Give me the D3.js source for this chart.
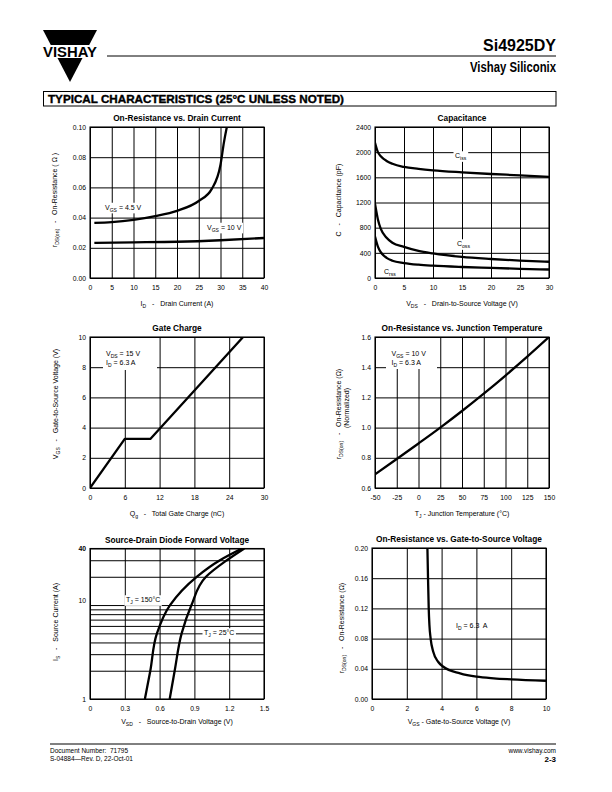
<!DOCTYPE html>
<html><head><meta charset="utf-8">
<script src="https://cdn.jsdelivr.net/npm/d3@7"></script>
<style>
body{margin:0;background:#fff}
svg text{white-space:pre}
</style></head><body>
<svg id="page" width="612" height="792"></svg>
<script>
// ================= DATA =================
// Chart 1: On-Resistance vs. Drain Current
const c1XTicks = [0,5,10,15,20,25,30,35,40];
const c1YTicks = [0,0.02,0.04,0.06,0.08,0.10];
const c1Id45 = [1,5,10,15,20,25,28,30,30.8,31.6];
const c1Ron45 = [0.0365,0.037,0.0385,0.041,0.0445,0.051,0.059,0.075,0.09,0.102];
const c1Id10 = [1,10,20,30,40];
const c1Ron10 = [0.0233,0.0236,0.024,0.025,0.0265];

// Chart 2: Capacitance
const c2XTicks = [0,5,10,15,20,25,30];
const c2YTicks = [0,400,800,1200,1600,2000,2400];
const c2Vds = [0,0.5,1,2,3,5,7.5,10,15,20,25,30];
const c2Ciss = [2150,2000,1935,1860,1815,1765,1735,1712,1680,1653,1632,1607];
const c2Coss = [1180,930,780,640,560,495,430,390,335,302,276,258];
const c2Crss = [660,500,410,320,275,238,212,196,175,160,146,135];

// Chart 3: Gate Charge
const c3XTicks = [0,6,12,18,24,30];
const c3YTicks = [0,2,4,6,8,10];
const c3Qg = [0,6,10.4,26.4];
const c3Vgs = [0,3.25,3.25,10];

// Chart 4: On-Resistance vs. Junction Temperature
const c4XTicks = [-50,-25,0,25,50,75,100,125,150];
const c4YTicks = [0.6,0.8,1.0,1.2,1.4,1.6];
const c4Tj = [-50,-25,0,25,50,75,100,125,150];
const c4Rn = [0.69,0.792,0.895,1.0,1.11,1.225,1.345,1.47,1.60];

// Chart 5: Source-Drain Diode Forward Voltage
const c5XTicks = [0,0.3,0.6,0.9,1.2,1.5];
const c5YGrid = [1,2,3,4,5,6,7,8,9,10,20,30,40];
const c5YLabels = [1,10,40];
const c5Is = [1,2,5,10,20,30,40];
const c5Vsd150 = [0.473,0.52,0.577,0.69,0.92,1.12,1.31];
const c5Vsd25 = [0.687,0.73,0.79,0.875,1.0,1.18,1.33];

// Chart 6: On-Resistance vs. Gate-to-Source Voltage
const c6XTicks = [0,2,4,6,8,10];
const c6YTicks = [0,0.04,0.08,0.12,0.16,0.20];
const c6Vgs = [3.18,3.22,3.26,3.3,3.37,3.52,3.81,4.1,5.06,6,7,8,10];
const c6Rds = [0.205,0.16,0.12,0.098,0.080,0.0626,0.049,0.0427,0.034,0.0295,0.0273,0.026,0.0242];

// ================= DRAWING =================
const FONT = "'Liberation Sans', Arial, Helvetica, sans-serif";
const svg = d3.select("#page").attr("font-family", FONT);

function rich(parent, x, y, parts, o = {}) {
  const fs = o.fs || 7;
  const t = parent.append("text").attr("x", x).attr("y", y)
    .attr("font-size", fs).attr("text-anchor", o.anchor || "start").attr("fill", "#000");
  if (o.bold) t.attr("font-weight", "bold");
  if (o.rotate) t.attr("transform", `rotate(-90 ${x} ${y})`);
  let shifted = 0;
  parts.forEach(p => {
    const s = typeof p === "string" ? { t: p } : p;
    const ts = t.append("tspan").text(s.t);
    if (s.sub) { ts.attr("font-size", fs * 0.72).attr("dy", fs * 0.3 - shifted); shifted = fs * 0.3; }
    else if (shifted) { ts.attr("dy", -shifted); shifted = 0; }
  });
  return t;
}
function bgBehind(layer, textSel, pad = 1.5) {
  const b = textSel.node().getBBox();
  layer.append("rect").attr("x", b.x - pad).attr("y", b.y - pad * 0.5)
    .attr("width", b.width + 2 * pad).attr("height", b.height + pad).attr("fill", "#fff");
}

let clipN = 0;
function chart(cfg) {
  const { left, right, top, bottom, x, y } = cfg;
  const g = svg.append("g");
  const id = "clip" + (clipN++);
  g.append("clipPath").attr("id", id).append("rect")
    .attr("x", left).attr("y", top).attr("width", right - left).attr("height", bottom - top);
  const gx = g.append("g").attr("transform", `translate(0,${bottom})`)
    .call(d3.axisBottom(x).tickValues(cfg.xTicks).tickFormat(cfg.xFmt)
      .tickSizeInner(-(bottom - top)).tickSizeOuter(0).tickPadding(7));
  const gy = g.append("g").attr("transform", `translate(${left},0)`)
    .call(d3.axisLeft(y).tickValues(cfg.yTicks).tickFormat(cfg.yFmt)
      .tickSizeInner(-(right - left)).tickSizeOuter(0).tickPadding(cfg.yPad || 4));
  [gx, gy].forEach(a => {
    a.attr("font-family", FONT).attr("font-size", 6.8);
    a.select(".domain").remove();
    a.selectAll("line").attr("stroke", "#000").attr("stroke-width", 1);
    a.selectAll("text").attr("fill", "#000");
  });
  const bgLayer = g.append("g");
  const curveLayer = g.append("g").attr("clip-path", `url(#${id})`);
  g.append("rect").attr("x", left).attr("y", top).attr("width", right - left).attr("height", bottom - top)
    .attr("fill", "none").attr("stroke", "#000").attr("stroke-width", 1.1);
  const labelLayer = g.append("g");
  g.append("text").attr("x", cfg.titleX != null ? cfg.titleX : (left + right) / 2).attr("y", top - 6)
    .attr("text-anchor", "middle").attr("font-weight", "bold").attr("font-size", 8.3).text(cfg.title);
  rich(g, cfg.xTitleX != null ? cfg.xTitleX : (left + right) / 2, bottom + (cfg.xTitleOff || 28), cfg.xTitle, { anchor: "middle" });
  cfg.yTitles.forEach(yt => rich(g, yt.x, yt.y, yt.parts, { anchor: "middle", rotate: true }));
  return { g, gx, gy, bgLayer, curveLayer, labelLayer };
}
function drawLine(layer, xs, ys, x, y, curve, w = 2.3) {
  const pts = xs.map((v, i) => [v, ys[i]]);
  layer.append("path").attr("d", d3.line().x(d => x(d[0])).y(d => y(d[1])).curve(curve)(pts))
    .attr("fill", "none").attr("stroke", "#000").attr("stroke-width", w)
    .attr("stroke-linejoin", "round").attr("stroke-linecap", "butt");
}
function label(ch, x, y, parts, withBg = true) {
  const t = rich(ch.labelLayer, x, y, parts, {});
  if (withBg) bgBehind(ch.bgLayer, t);
  return t;
}

// ---------- header ----------
svg.append("path").attr("d", "M43,30 H97 L89.2,45 H50.8 Z").attr("fill", "#000");
svg.append("path").attr("d", "M57.5,58 H82.5 L70,82 Z").attr("fill", "#000");
svg.append("text").attr("x", 43).attr("y", 56.5).attr("font-weight", "bold").attr("font-size", 14.5)
  .attr("textLength", 54).attr("lengthAdjust", "spacingAndGlyphs").text("VISHAY");
svg.append("line").attr("x1", 107).attr("x2", 556).attr("y1", 56).attr("y2", 56).attr("stroke", "#000").attr("stroke-width", 1);
svg.append("text").attr("x", 556).attr("y", 51).attr("text-anchor", "end").attr("font-weight", "bold").attr("font-size", 17)
  .attr("textLength", 73).attr("lengthAdjust", "spacingAndGlyphs").text("Si4925DY");
svg.append("text").attr("x", 556).attr("y", 72).attr("text-anchor", "end").attr("font-weight", "bold").attr("font-size", 14)
  .attr("textLength", 86).attr("lengthAdjust", "spacingAndGlyphs").text("Vishay Siliconix");
svg.append("rect").attr("x", 43.5).attr("y", 91.5).attr("width", 512.5).attr("height", 14.5).attr("fill", "none").attr("stroke", "#000").attr("stroke-width", 1);
svg.append("text").attr("x", 48).attr("y", 102.5).attr("font-weight", "bold").attr("font-size", 10.3)
  .attr("stroke", "#000").attr("stroke-width", 0.35)
  .attr("textLength", 296).attr("lengthAdjust", "spacingAndGlyphs")
  .text("TYPICAL CHARACTERISTICS (25°C UNLESS NOTED)");

// ---------- footer ----------
svg.append("line").attr("x1", 50).attr("x2", 556).attr("y1", 744).attr("y2", 744).attr("stroke", "#000").attr("stroke-width", 1);
svg.append("text").attr("x", 50).attr("y", 753).attr("font-size", 6.5).text("Document Number:  71795");
svg.append("text").attr("x", 50).attr("y", 761).attr("font-size", 6.5).text("S-04884—Rev. D, 22-Oct-01");
svg.append("text").attr("x", 556).attr("y", 753).attr("font-size", 6.5).attr("text-anchor", "end").text("www.vishay.com");
svg.append("text").attr("x", 556).attr("y", 762).attr("font-size", 8).attr("font-weight", "bold").attr("text-anchor", "end").text("2-3");

const f2 = d3.format(".2f"), f1 = d3.format(".1f"), fd = v => String(v);

// ---------- Chart 1 ----------
{
  const L = 90, R = 264, T = 127, B = 278;
  const x = d3.scaleLinear().domain([0, 40]).range([L, R]);
  const y = d3.scaleLinear().domain([0, 0.10]).range([B, T]);
  const ch = chart({ left: L, right: R, top: T, bottom: B, x, y, xTicks: c1XTicks, yTicks: c1YTicks, xFmt: fd, yFmt: f2,
    title: "On-Resistance vs. Drain Current",
    xTitle: ["I", { t: "D", sub: true }, "   -   Drain Current (A)"],
    yTitles: [{ x: 56.5, y: 200, parts: ["r", { t: "DS(on)", sub: true }, "   -   On-Resistance ( Ω )"] }] });
  label(ch, 105, 209.5, ["V", { t: "GS", sub: true }, " = 4.5 V"]);
  label(ch, 207, 229.5, ["V", { t: "GS", sub: true }, " = 10 V"]);
  drawLine(ch.curveLayer, c1Id45, c1Ron45, x, y, d3.curveMonotoneX);
  drawLine(ch.curveLayer, c1Id10, c1Ron10, x, y, d3.curveMonotoneX);
}
// ---------- Chart 2 ----------
{
  const L = 375, R = 549, T = 127, B = 278;
  const x = d3.scaleLinear().domain([0, 30]).range([L, R]);
  const y = d3.scaleLinear().domain([0, 2400]).range([B, T]);
  const ch = chart({ left: L, right: R, top: T, bottom: B, x, y, xTicks: c2XTicks, yTicks: c2YTicks, xFmt: fd, yFmt: fd,
    title: "Capacitance",
    xTitle: ["V", { t: "DS", sub: true }, "   -   Drain-to-Source Voltage (V)"],
    yTitles: [{ x: 340.5, y: 200, parts: ["C   -   Capacitance (pF)"] }] });
  label(ch, 455, 158, ["C", { t: "iss", sub: true }]);
  label(ch, 457, 246, ["C", { t: "oss", sub: true }]);
  label(ch, 384, 274, ["C", { t: "rss", sub: true }], false);
  drawLine(ch.curveLayer, c2Vds, c2Ciss, x, y, d3.curveMonotoneX);
  drawLine(ch.curveLayer, c2Vds, c2Coss, x, y, d3.curveMonotoneX);
  drawLine(ch.curveLayer, c2Vds, c2Crss, x, y, d3.curveMonotoneX);
}
// ---------- Chart 3 ----------
{
  const L = 90, R = 264, T = 337, B = 488;
  const x = d3.scaleLinear().domain([0, 30]).range([L, R]);
  const y = d3.scaleLinear().domain([0, 10]).range([B, T]);
  const ch = chart({ left: L, right: R, top: T, bottom: B, x, y, xTicks: c3XTicks, yTicks: c3YTicks, xFmt: fd, yFmt: fd,
    title: "Gate Charge",
    xTitle: ["Q", { t: "g", sub: true }, "   -   Total Gate Charge (nC)"],
    yTitles: [{ x: 57.5, y: 404, parts: ["V", { t: "GS", sub: true }, "   -   Gate-to-Source Voltage (V)"] }] });
  ch.bgLayer.append("rect").attr("x", 103).attr("y", T + 1).attr("width", 54).attr("height", 32).attr("fill", "#fff");
  label(ch, 106, 356, ["V", { t: "DS", sub: true }, " = 15 V"], false);
  label(ch, 106, 365, ["I", { t: "D", sub: true }, " = 6.3 A"], false);
  drawLine(ch.curveLayer, c3Qg, c3Vgs, x, y, d3.curveLinear);
}
// ---------- Chart 4 ----------
{
  const L = 375, R = 549, T = 337, B = 488;
  const x = d3.scaleLinear().domain([-50, 150]).range([L, R]);
  const y = d3.scaleLinear().domain([0.6, 1.6]).range([B, T]);
  const ch = chart({ left: L, right: R, top: T, bottom: B, x, y, xTicks: c4XTicks, yTicks: c4YTicks, xFmt: fd, yFmt: f1,
    title: "On-Resistance vs. Junction Temperature",
    xTitle: ["T", { t: "J", sub: true }, " - Junction Temperature (°C)"],
    yTitles: [{ x: 340.5, y: 414, parts: ["r", { t: "DS(on)", sub: true }, "   -   On-Resistance (Ω)"] },
              { x: 348.5, y: 408, parts: ["(Normalized)"] }] });
  ch.bgLayer.append("rect").attr("x", 386).attr("y", T + 1).attr("width", 51).attr("height", 31).attr("fill", "#fff");
  label(ch, 391.5, 356, ["V", { t: "GS", sub: true }, " = 10 V"], false);
  label(ch, 391.5, 364.5, ["I", { t: "D", sub: true }, " = 6.3 A"], false);
  drawLine(ch.curveLayer, c4Tj, c4Rn, x, y, d3.curveMonotoneX);
}
// ---------- Chart 5 ----------
{
  const L = 90, R = 264, T = 548.5, B = 699;
  const x = d3.scaleLinear().domain([0, 1.5]).range([L, R]);
  const y = d3.scaleLog().domain([1, 40]).range([B, T]);
  const ch = chart({ left: L, right: R, top: T, bottom: B, x, y, xTicks: c5XTicks, yTicks: c5YGrid,
    xFmt: v => v === 0 ? "0" : f1(v), yFmt: v => c5YLabels.includes(v) ? fd(v) : "",
    title: "Source-Drain Diode Forward Voltage", xTitleOff: 24.5,
    xTitle: ["V", { t: "SD", sub: true }, "   -   Source-to-Drain Voltage (V)"],
    yTitles: [{ x: 57.5, y: 622, parts: ["I", { t: "S", sub: true }, "   -   Source Current (A)"] }] });
  // the "10" tick label sits slightly above its grid line in the original
  ch.gy.selectAll(".tick text").filter(d => d === 10).attr("dy", "-0.45em");
  ch.gy.selectAll(".tick text").filter(d => d === 40).attr("font-weight", "bold");
  label(ch, 126, 602, ["T", { t: "J", sub: true }, " = 150°C"]);
  label(ch, 204, 635, ["T", { t: "J", sub: true }, " = 25°C"]);
  drawLine(ch.curveLayer, c5Vsd150, c5Is, x, y, d3.curveMonotoneY);
  drawLine(ch.curveLayer, c5Vsd25, c5Is, x, y, d3.curveMonotoneY);
}
// ---------- Chart 6 ----------
{
  const L = 372, R = 546, T = 548, B = 699;
  const x = d3.scaleLinear().domain([0, 10]).range([L, R]);
  const y = d3.scaleLinear().domain([0, 0.20]).range([B, T]);
  const ch = chart({ left: L, right: R, top: T, bottom: B, x, y, xTicks: c6XTicks, yTicks: c6YTicks, xFmt: fd, yFmt: f2,
    title: "On-Resistance vs. Gate-to-Source Voltage", xTitleOff: 24.5,
    xTitle: ["V", { t: "GS", sub: true }, " - Gate-to-Source Voltage (V)"],
    yTitles: [{ x: 343.5, y: 628, parts: ["r", { t: "DS(on)", sub: true }, "   -   On-Resistance (Ω)"] }] });
  label(ch, 456, 627.5, ["I", { t: "D", sub: true }, " = 6.3  A"], false);
  drawLine(ch.curveLayer, c6Vgs, c6Rds, x, y, d3.curveMonotoneX);
}
</script>
</body></html>
